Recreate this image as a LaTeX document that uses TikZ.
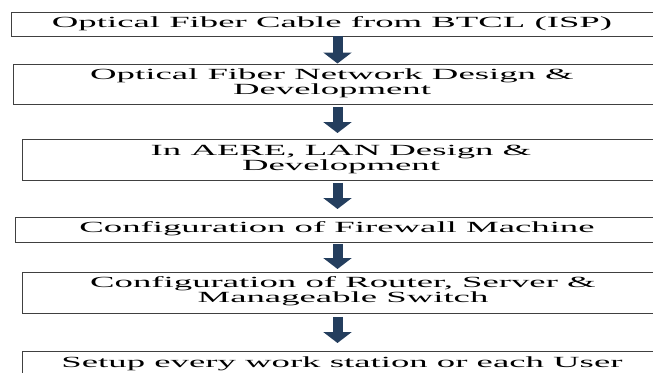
\documentclass[tikz,border=0pt]{standalone}
\usepackage{fontspec}
\newfontfamily\widefont[FakeStretch=2.37]{Liberation Serif}
\usepackage{tikz}
\usetikzlibrary{arrows.meta}
\definecolor{arrowblue}{RGB}{36,62,94}

\begin{document}
\begin{tikzpicture}[x=1pt,y=-1pt]
	\tikzstyle{stepbox} = [rectangle, anchor=north west, minimum width=680pt, draw=black!75, line width=0.9pt]
	\tikzstyle{steptext} = [align=center, inner sep=0pt, font={\widefont\fontsize{15.5}{15}\selectfont}]
	\tikzstyle{flowarrow} = [arrowblue, line width=10pt, -{Triangle[length=11pt 0,width=28pt 0]}]
	
	\clip (0,0) rectangle (653,372);
	\coordinate (axis) at (337.5,0);
	
	\node (isp) at (11,12) [stepbox, minimum height=24pt]{};
	\node (txtisp) at (332,23.5) [steptext]{Optical Fiber Cable from BTCL (ISP)};
	
	\node (fiber) at (13,63.5) [stepbox, minimum height=40pt]{};
	\node (txtfiber) at (332,83) [steptext]{Optical Fiber Network Design \&\\Development};
	
	\node (lan) at (21.5,139) [stepbox, minimum height=40.5pt]{};
	\node (txtlan) at (341,159) [steptext]{In AERE, LAN Design \&\\Development};
	
	\node (fw) at (15,217) [stepbox, minimum height=25pt]{};
	\node (txtfw) at (337,229) [steptext]{Configuration of Firewall Machine};
	
	\node (rtr) at (21.5,272) [stepbox, minimum height=40.5pt]{};
	\node (txtrtr) at (343,291.5) [steptext]{Configuration of Router, Server \&\\Manageable Switch};
	
	\node (usr) at (21.5,351) [stepbox, minimum height=30pt]{};
	\node (txtusr) at (342,364) [steptext]{Setup every work station or each User};
	
	%Arrows
	\draw[flowarrow, shorten <=-1pt] (axis |- isp.south) -- (axis |- fiber.north);
	\draw[flowarrow, shorten <=2.5pt, shorten >=6pt] (axis |- fiber.south) -- (axis |- lan.north);
	\draw[flowarrow, shorten <=2.5pt, shorten >=8pt] (axis |- lan.south) -- (axis |- fw.north);
	\draw[flowarrow, shorten <=1pt, shorten >=3pt] (axis |- fw.south) -- (axis |- rtr.north);
	\draw[flowarrow, xshift=10.5pt, shorten <=3.5pt, shorten >=8pt] (axis |- rtr.south) -- (axis |- usr.north);
	
\end{tikzpicture}
\end{document}
